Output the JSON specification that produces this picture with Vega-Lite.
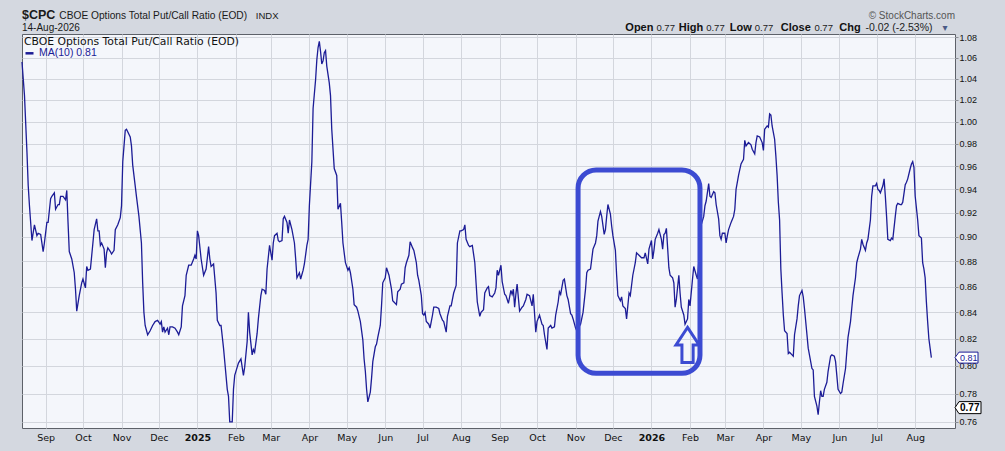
{
  "$schema": "https://vega.github.io/schema/vega-lite/v6.json",
  "width": 933,
  "height": 394,
  "autosize": {"type": "none"},
  "padding": {"left": 22, "top": 34, "right": 50, "bottom": 23},
  "background": "#d4d8e0",
  "config": {
    "view": {"fill": "#f4f6fb", "stroke": "#5d6169", "strokeWidth": 1}
  },
  "resolve": {"axis": {"x": "independent", "y": "independent"}},
  "layer": [
    {
      "data": {
        "format": {"parse": {"date": "date:'%Y-%m-%d'"}},
        "values": [
          {"date": "2024-08-13", "ma": 1.056}, {"date": "2024-08-15", "ma": 1.024}, {"date": "2024-08-17", "ma": 0.972},
          {"date": "2024-08-18", "ma": 0.943}, {"date": "2024-08-19", "ma": 0.926}, {"date": "2024-08-21", "ma": 0.897},
          {"date": "2024-08-23", "ma": 0.910}, {"date": "2024-08-25", "ma": 0.901}, {"date": "2024-08-26", "ma": 0.903},
          {"date": "2024-08-28", "ma": 0.902}, {"date": "2024-08-30", "ma": 0.888}, {"date": "2024-08-31", "ma": 0.895},
          {"date": "2024-09-02", "ma": 0.912}, {"date": "2024-09-03", "ma": 0.912}, {"date": "2024-09-05", "ma": 0.932},
          {"date": "2024-09-06", "ma": 0.934}, {"date": "2024-09-08", "ma": 0.937}, {"date": "2024-09-09", "ma": 0.923},
          {"date": "2024-09-11", "ma": 0.927}, {"date": "2024-09-12", "ma": 0.927}, {"date": "2024-09-13", "ma": 0.934},
          {"date": "2024-09-15", "ma": 0.934}, {"date": "2024-09-17", "ma": 0.931}, {"date": "2024-09-18", "ma": 0.939},
          {"date": "2024-09-19", "ma": 0.912}, {"date": "2024-09-20", "ma": 0.888}, {"date": "2024-09-22", "ma": 0.882},
          {"date": "2024-09-24", "ma": 0.871}, {"date": "2024-09-25", "ma": 0.858}, {"date": "2024-09-26", "ma": 0.841},
          {"date": "2024-09-28", "ma": 0.853}, {"date": "2024-09-30", "ma": 0.863}, {"date": "2024-10-01", "ma": 0.866},
          {"date": "2024-10-03", "ma": 0.859}, {"date": "2024-10-04", "ma": 0.876}, {"date": "2024-10-05", "ma": 0.873},
          {"date": "2024-10-07", "ma": 0.874}, {"date": "2024-10-09", "ma": 0.895}, {"date": "2024-10-10", "ma": 0.906},
          {"date": "2024-10-12", "ma": 0.915}, {"date": "2024-10-13", "ma": 0.905}, {"date": "2024-10-14", "ma": 0.905},
          {"date": "2024-10-15", "ma": 0.893}, {"date": "2024-10-16", "ma": 0.895}, {"date": "2024-10-18", "ma": 0.890},
          {"date": "2024-10-19", "ma": 0.875}, {"date": "2024-10-20", "ma": 0.887}, {"date": "2024-10-21", "ma": 0.891},
          {"date": "2024-10-23", "ma": 0.888}, {"date": "2024-10-24", "ma": 0.886}, {"date": "2024-10-26", "ma": 0.889},
          {"date": "2024-10-27", "ma": 0.906}, {"date": "2024-10-29", "ma": 0.910}, {"date": "2024-10-31", "ma": 0.916},
          {"date": "2024-11-01", "ma": 0.926}, {"date": "2024-11-02", "ma": 0.964}, {"date": "2024-11-04", "ma": 0.992},
          {"date": "2024-11-05", "ma": 0.993}, {"date": "2024-11-08", "ma": 0.986}, {"date": "2024-11-09", "ma": 0.978},
          {"date": "2024-11-10", "ma": 0.961}, {"date": "2024-11-12", "ma": 0.943}, {"date": "2024-11-13", "ma": 0.934},
          {"date": "2024-11-15", "ma": 0.917}, {"date": "2024-11-17", "ma": 0.895}, {"date": "2024-11-18", "ma": 0.863},
          {"date": "2024-11-19", "ma": 0.840}, {"date": "2024-11-20", "ma": 0.830}, {"date": "2024-11-22", "ma": 0.823},
          {"date": "2024-11-24", "ma": 0.826}, {"date": "2024-11-26", "ma": 0.830}, {"date": "2024-11-28", "ma": 0.833},
          {"date": "2024-11-30", "ma": 0.834}, {"date": "2024-12-02", "ma": 0.831}, {"date": "2024-12-03", "ma": 0.833},
          {"date": "2024-12-04", "ma": 0.825}, {"date": "2024-12-05", "ma": 0.829}, {"date": "2024-12-06", "ma": 0.825},
          {"date": "2024-12-08", "ma": 0.828}, {"date": "2024-12-09", "ma": 0.823}, {"date": "2024-12-10", "ma": 0.829},
          {"date": "2024-12-12", "ma": 0.829}, {"date": "2024-12-14", "ma": 0.828}, {"date": "2024-12-16", "ma": 0.825},
          {"date": "2024-12-17", "ma": 0.823}, {"date": "2024-12-19", "ma": 0.829}, {"date": "2024-12-20", "ma": 0.845},
          {"date": "2024-12-22", "ma": 0.853}, {"date": "2024-12-23", "ma": 0.869}, {"date": "2024-12-25", "ma": 0.877},
          {"date": "2024-12-27", "ma": 0.877}, {"date": "2024-12-29", "ma": 0.882}, {"date": "2024-12-30", "ma": 0.885},
          {"date": "2024-12-31", "ma": 0.882}, {"date": "2025-01-01", "ma": 0.905}, {"date": "2025-01-02", "ma": 0.901},
          {"date": "2025-01-04", "ma": 0.882}, {"date": "2025-01-06", "ma": 0.869}, {"date": "2025-01-08", "ma": 0.874},
          {"date": "2025-01-10", "ma": 0.892}, {"date": "2025-01-11", "ma": 0.882}, {"date": "2025-01-12", "ma": 0.876},
          {"date": "2025-01-14", "ma": 0.878}, {"date": "2025-01-16", "ma": 0.855}, {"date": "2025-01-17", "ma": 0.834},
          {"date": "2025-01-19", "ma": 0.830}, {"date": "2025-01-20", "ma": 0.830}, {"date": "2025-01-22", "ma": 0.813},
          {"date": "2025-01-23", "ma": 0.803}, {"date": "2025-01-25", "ma": 0.783}, {"date": "2025-01-26", "ma": 0.778},
          {"date": "2025-01-27", "ma": 0.760}, {"date": "2025-01-29", "ma": 0.760}, {"date": "2025-01-30", "ma": 0.783},
          {"date": "2025-01-31", "ma": 0.793}, {"date": "2025-02-02", "ma": 0.799}, {"date": "2025-02-03", "ma": 0.802},
          {"date": "2025-02-05", "ma": 0.805}, {"date": "2025-02-07", "ma": 0.793}, {"date": "2025-02-08", "ma": 0.799},
          {"date": "2025-02-10", "ma": 0.818}, {"date": "2025-02-11", "ma": 0.840}, {"date": "2025-02-12", "ma": 0.825},
          {"date": "2025-02-14", "ma": 0.808}, {"date": "2025-02-15", "ma": 0.812}, {"date": "2025-02-16", "ma": 0.810},
          {"date": "2025-02-18", "ma": 0.824}, {"date": "2025-02-19", "ma": 0.835}, {"date": "2025-02-21", "ma": 0.853},
          {"date": "2025-02-22", "ma": 0.858}, {"date": "2025-02-24", "ma": 0.857}, {"date": "2025-02-25", "ma": 0.854},
          {"date": "2025-02-26", "ma": 0.874}, {"date": "2025-02-28", "ma": 0.893}, {"date": "2025-03-02", "ma": 0.881},
          {"date": "2025-03-03", "ma": 0.895}, {"date": "2025-03-04", "ma": 0.901}, {"date": "2025-03-06", "ma": 0.903},
          {"date": "2025-03-07", "ma": 0.897}, {"date": "2025-03-08", "ma": 0.896}, {"date": "2025-03-10", "ma": 0.897},
          {"date": "2025-03-11", "ma": 0.915}, {"date": "2025-03-12", "ma": 0.917}, {"date": "2025-03-14", "ma": 0.912},
          {"date": "2025-03-15", "ma": 0.903}, {"date": "2025-03-16", "ma": 0.914}, {"date": "2025-03-18", "ma": 0.906},
          {"date": "2025-03-20", "ma": 0.895}, {"date": "2025-03-21", "ma": 0.882}, {"date": "2025-03-22", "ma": 0.867},
          {"date": "2025-03-24", "ma": 0.871}, {"date": "2025-03-25", "ma": 0.866}, {"date": "2025-03-27", "ma": 0.873},
          {"date": "2025-03-28", "ma": 0.878}, {"date": "2025-03-30", "ma": 0.893}, {"date": "2025-03-31", "ma": 0.898},
          {"date": "2025-04-01", "ma": 0.926}, {"date": "2025-04-03", "ma": 0.964}, {"date": "2025-04-04", "ma": 1.012},
          {"date": "2025-04-06", "ma": 1.039}, {"date": "2025-04-07", "ma": 1.058}, {"date": "2025-04-08", "ma": 1.070},
          {"date": "2025-04-09", "ma": 1.076}, {"date": "2025-04-10", "ma": 1.066}, {"date": "2025-04-11", "ma": 1.054},
          {"date": "2025-04-12", "ma": 1.057}, {"date": "2025-04-13", "ma": 1.065}, {"date": "2025-04-14", "ma": 1.067},
          {"date": "2025-04-15", "ma": 1.052}, {"date": "2025-04-17", "ma": 1.036}, {"date": "2025-04-18", "ma": 1.024},
          {"date": "2025-04-19", "ma": 0.993}, {"date": "2025-04-21", "ma": 0.958}, {"date": "2025-04-23", "ma": 0.952},
          {"date": "2025-04-24", "ma": 0.923}, {"date": "2025-04-26", "ma": 0.928}, {"date": "2025-04-27", "ma": 0.912},
          {"date": "2025-04-28", "ma": 0.895}, {"date": "2025-04-30", "ma": 0.879}, {"date": "2025-05-02", "ma": 0.873},
          {"date": "2025-05-03", "ma": 0.875}, {"date": "2025-05-04", "ma": 0.871}, {"date": "2025-05-06", "ma": 0.858},
          {"date": "2025-05-07", "ma": 0.846}, {"date": "2025-05-09", "ma": 0.844}, {"date": "2025-05-10", "ma": 0.841},
          {"date": "2025-05-12", "ma": 0.833}, {"date": "2025-05-14", "ma": 0.819}, {"date": "2025-05-15", "ma": 0.805},
          {"date": "2025-05-16", "ma": 0.796}, {"date": "2025-05-17", "ma": 0.783}, {"date": "2025-05-18", "ma": 0.774},
          {"date": "2025-05-20", "ma": 0.781}, {"date": "2025-05-21", "ma": 0.791}, {"date": "2025-05-22", "ma": 0.803},
          {"date": "2025-05-24", "ma": 0.814}, {"date": "2025-05-25", "ma": 0.816}, {"date": "2025-05-26", "ma": 0.821},
          {"date": "2025-05-28", "ma": 0.830}, {"date": "2025-05-29", "ma": 0.845}, {"date": "2025-05-30", "ma": 0.863},
          {"date": "2025-06-01", "ma": 0.867}, {"date": "2025-06-02", "ma": 0.875}, {"date": "2025-06-04", "ma": 0.869},
          {"date": "2025-06-06", "ma": 0.858}, {"date": "2025-06-07", "ma": 0.849}, {"date": "2025-06-08", "ma": 0.848},
          {"date": "2025-06-10", "ma": 0.846}, {"date": "2025-06-11", "ma": 0.856}, {"date": "2025-06-13", "ma": 0.858},
          {"date": "2025-06-14", "ma": 0.862}, {"date": "2025-06-16", "ma": 0.863}, {"date": "2025-06-17", "ma": 0.875},
          {"date": "2025-06-18", "ma": 0.879}, {"date": "2025-06-20", "ma": 0.885}, {"date": "2025-06-21", "ma": 0.896},
          {"date": "2025-06-23", "ma": 0.891}, {"date": "2025-06-24", "ma": 0.889}, {"date": "2025-06-26", "ma": 0.879},
          {"date": "2025-06-27", "ma": 0.869}, {"date": "2025-06-28", "ma": 0.865}, {"date": "2025-06-30", "ma": 0.853},
          {"date": "2025-07-01", "ma": 0.839}, {"date": "2025-07-02", "ma": 0.838}, {"date": "2025-07-03", "ma": 0.840},
          {"date": "2025-07-04", "ma": 0.833}, {"date": "2025-07-06", "ma": 0.831}, {"date": "2025-07-07", "ma": 0.828},
          {"date": "2025-07-09", "ma": 0.838}, {"date": "2025-07-10", "ma": 0.844}, {"date": "2025-07-12", "ma": 0.844},
          {"date": "2025-07-14", "ma": 0.843}, {"date": "2025-07-15", "ma": 0.839}, {"date": "2025-07-17", "ma": 0.834},
          {"date": "2025-07-18", "ma": 0.833}, {"date": "2025-07-20", "ma": 0.825}, {"date": "2025-07-21", "ma": 0.837},
          {"date": "2025-07-23", "ma": 0.845}, {"date": "2025-07-24", "ma": 0.845}, {"date": "2025-07-26", "ma": 0.855},
          {"date": "2025-07-28", "ma": 0.861}, {"date": "2025-07-29", "ma": 0.895}, {"date": "2025-07-31", "ma": 0.905},
          {"date": "2025-08-01", "ma": 0.905}, {"date": "2025-08-03", "ma": 0.906}, {"date": "2025-08-04", "ma": 0.910},
          {"date": "2025-08-05", "ma": 0.898}, {"date": "2025-08-07", "ma": 0.893}, {"date": "2025-08-08", "ma": 0.892},
          {"date": "2025-08-10", "ma": 0.893}, {"date": "2025-08-12", "ma": 0.879}, {"date": "2025-08-13", "ma": 0.863},
          {"date": "2025-08-14", "ma": 0.848}, {"date": "2025-08-16", "ma": 0.837}, {"date": "2025-08-17", "ma": 0.840},
          {"date": "2025-08-19", "ma": 0.842}, {"date": "2025-08-20", "ma": 0.855}, {"date": "2025-08-22", "ma": 0.859},
          {"date": "2025-08-23", "ma": 0.860}, {"date": "2025-08-24", "ma": 0.853}, {"date": "2025-08-26", "ma": 0.852},
          {"date": "2025-08-28", "ma": 0.855}, {"date": "2025-08-29", "ma": 0.859}, {"date": "2025-08-30", "ma": 0.873},
          {"date": "2025-08-31", "ma": 0.869}, {"date": "2025-09-02", "ma": 0.877}, {"date": "2025-09-03", "ma": 0.864},
          {"date": "2025-09-05", "ma": 0.854}, {"date": "2025-09-06", "ma": 0.853}, {"date": "2025-09-08", "ma": 0.847},
          {"date": "2025-09-10", "ma": 0.857}, {"date": "2025-09-11", "ma": 0.854}, {"date": "2025-09-12", "ma": 0.858},
          {"date": "2025-09-13", "ma": 0.844}, {"date": "2025-09-14", "ma": 0.854}, {"date": "2025-09-15", "ma": 0.862},
          {"date": "2025-09-17", "ma": 0.841}, {"date": "2025-09-19", "ma": 0.844}, {"date": "2025-09-20", "ma": 0.845},
          {"date": "2025-09-22", "ma": 0.850}, {"date": "2025-09-23", "ma": 0.854}, {"date": "2025-09-25", "ma": 0.853},
          {"date": "2025-09-27", "ma": 0.845}, {"date": "2025-09-28", "ma": 0.854}, {"date": "2025-09-30", "ma": 0.825},
          {"date": "2025-10-01", "ma": 0.833}, {"date": "2025-10-03", "ma": 0.838}, {"date": "2025-10-05", "ma": 0.831},
          {"date": "2025-10-06", "ma": 0.830}, {"date": "2025-10-07", "ma": 0.823}, {"date": "2025-10-09", "ma": 0.812},
          {"date": "2025-10-10", "ma": 0.828}, {"date": "2025-10-12", "ma": 0.830}, {"date": "2025-10-13", "ma": 0.828},
          {"date": "2025-10-15", "ma": 0.829}, {"date": "2025-10-16", "ma": 0.838}, {"date": "2025-10-18", "ma": 0.848},
          {"date": "2025-10-19", "ma": 0.856}, {"date": "2025-10-20", "ma": 0.854}, {"date": "2025-10-22", "ma": 0.865},
          {"date": "2025-10-23", "ma": 0.866}, {"date": "2025-10-25", "ma": 0.853}, {"date": "2025-10-26", "ma": 0.850},
          {"date": "2025-10-28", "ma": 0.839}, {"date": "2025-10-29", "ma": 0.838}, {"date": "2025-10-30", "ma": 0.835},
          {"date": "2025-11-01", "ma": 0.828}, {"date": "2025-11-02", "ma": 0.826}, {"date": "2025-11-05", "ma": 0.831},
          {"date": "2025-11-07", "ma": 0.840}, {"date": "2025-11-09", "ma": 0.858}, {"date": "2025-11-10", "ma": 0.871},
          {"date": "2025-11-11", "ma": 0.873}, {"date": "2025-11-13", "ma": 0.874}, {"date": "2025-11-15", "ma": 0.890},
          {"date": "2025-11-17", "ma": 0.895}, {"date": "2025-11-18", "ma": 0.901}, {"date": "2025-11-19", "ma": 0.913},
          {"date": "2025-11-21", "ma": 0.921}, {"date": "2025-11-22", "ma": 0.917}, {"date": "2025-11-24", "ma": 0.902},
          {"date": "2025-11-25", "ma": 0.906}, {"date": "2025-11-26", "ma": 0.917}, {"date": "2025-11-27", "ma": 0.927},
          {"date": "2025-11-29", "ma": 0.919}, {"date": "2025-11-30", "ma": 0.909}, {"date": "2025-12-01", "ma": 0.901},
          {"date": "2025-12-03", "ma": 0.889}, {"date": "2025-12-04", "ma": 0.869}, {"date": "2025-12-05", "ma": 0.853},
          {"date": "2025-12-07", "ma": 0.849}, {"date": "2025-12-08", "ma": 0.852}, {"date": "2025-12-09", "ma": 0.845},
          {"date": "2025-12-11", "ma": 0.843}, {"date": "2025-12-12", "ma": 0.835}, {"date": "2025-12-13", "ma": 0.845},
          {"date": "2025-12-14", "ma": 0.855}, {"date": "2025-12-15", "ma": 0.853}, {"date": "2025-12-17", "ma": 0.869},
          {"date": "2025-12-19", "ma": 0.879}, {"date": "2025-12-20", "ma": 0.887}, {"date": "2025-12-22", "ma": 0.885},
          {"date": "2025-12-24", "ma": 0.883}, {"date": "2025-12-26", "ma": 0.883}, {"date": "2025-12-27", "ma": 0.887},
          {"date": "2025-12-29", "ma": 0.878}, {"date": "2025-12-30", "ma": 0.890}, {"date": "2026-01-01", "ma": 0.897},
          {"date": "2026-01-02", "ma": 0.882}, {"date": "2026-01-03", "ma": 0.889}, {"date": "2026-01-04", "ma": 0.898},
          {"date": "2026-01-06", "ma": 0.903}, {"date": "2026-01-07", "ma": 0.906}, {"date": "2026-01-09", "ma": 0.898},
          {"date": "2026-01-10", "ma": 0.890}, {"date": "2026-01-11", "ma": 0.902}, {"date": "2026-01-12", "ma": 0.903},
          {"date": "2026-01-13", "ma": 0.907}, {"date": "2026-01-14", "ma": 0.891}, {"date": "2026-01-15", "ma": 0.875},
          {"date": "2026-01-16", "ma": 0.869}, {"date": "2026-01-18", "ma": 0.867}, {"date": "2026-01-19", "ma": 0.863},
          {"date": "2026-01-20", "ma": 0.844}, {"date": "2026-01-21", "ma": 0.850}, {"date": "2026-01-23", "ma": 0.869},
          {"date": "2026-01-24", "ma": 0.855}, {"date": "2026-01-25", "ma": 0.844}, {"date": "2026-01-27", "ma": 0.838},
          {"date": "2026-01-28", "ma": 0.831}, {"date": "2026-01-30", "ma": 0.835}, {"date": "2026-01-31", "ma": 0.850},
          {"date": "2026-02-01", "ma": 0.845}, {"date": "2026-02-03", "ma": 0.866}, {"date": "2026-02-04", "ma": 0.876},
          {"date": "2026-02-06", "ma": 0.869}, {"date": "2026-02-07", "ma": 0.866}, {"date": "2026-02-09", "ma": 0.893},
          {"date": "2026-02-10", "ma": 0.910}, {"date": "2026-02-12", "ma": 0.917}, {"date": "2026-02-13", "ma": 0.926},
          {"date": "2026-02-14", "ma": 0.930}, {"date": "2026-02-16", "ma": 0.945}, {"date": "2026-02-17", "ma": 0.934},
          {"date": "2026-02-18", "ma": 0.933}, {"date": "2026-02-20", "ma": 0.938}, {"date": "2026-02-21", "ma": 0.937},
          {"date": "2026-02-22", "ma": 0.927}, {"date": "2026-02-24", "ma": 0.915}, {"date": "2026-02-25", "ma": 0.901},
          {"date": "2026-02-26", "ma": 0.898}, {"date": "2026-02-27", "ma": 0.903}, {"date": "2026-03-01", "ma": 0.903},
          {"date": "2026-03-02", "ma": 0.895}, {"date": "2026-03-03", "ma": 0.901}, {"date": "2026-03-04", "ma": 0.906},
          {"date": "2026-03-06", "ma": 0.912}, {"date": "2026-03-08", "ma": 0.917}, {"date": "2026-03-09", "ma": 0.923},
          {"date": "2026-03-10", "ma": 0.940}, {"date": "2026-03-12", "ma": 0.952}, {"date": "2026-03-14", "ma": 0.962},
          {"date": "2026-03-16", "ma": 0.966}, {"date": "2026-03-17", "ma": 0.983}, {"date": "2026-03-18", "ma": 0.978},
          {"date": "2026-03-20", "ma": 0.981}, {"date": "2026-03-22", "ma": 0.979}, {"date": "2026-03-23", "ma": 0.975},
          {"date": "2026-03-25", "ma": 0.971}, {"date": "2026-03-26", "ma": 0.981}, {"date": "2026-03-27", "ma": 0.987},
          {"date": "2026-03-29", "ma": 0.986}, {"date": "2026-03-31", "ma": 0.981}, {"date": "2026-04-01", "ma": 0.974},
          {"date": "2026-04-02", "ma": 0.993}, {"date": "2026-04-04", "ma": 0.996}, {"date": "2026-04-05", "ma": 0.995},
          {"date": "2026-04-06", "ma": 1.007}, {"date": "2026-04-07", "ma": 1.006}, {"date": "2026-04-08", "ma": 0.996},
          {"date": "2026-04-10", "ma": 0.984}, {"date": "2026-04-11", "ma": 0.969}, {"date": "2026-04-12", "ma": 0.952},
          {"date": "2026-04-13", "ma": 0.929}, {"date": "2026-04-14", "ma": 0.914}, {"date": "2026-04-15", "ma": 0.874},
          {"date": "2026-04-16", "ma": 0.855}, {"date": "2026-04-17", "ma": 0.838}, {"date": "2026-04-18", "ma": 0.826},
          {"date": "2026-04-20", "ma": 0.824}, {"date": "2026-04-21", "ma": 0.809}, {"date": "2026-04-22", "ma": 0.810},
          {"date": "2026-04-24", "ma": 0.808}, {"date": "2026-04-25", "ma": 0.807}, {"date": "2026-04-26", "ma": 0.823},
          {"date": "2026-04-28", "ma": 0.835}, {"date": "2026-04-29", "ma": 0.845}, {"date": "2026-04-30", "ma": 0.853},
          {"date": "2026-05-02", "ma": 0.857}, {"date": "2026-05-03", "ma": 0.852}, {"date": "2026-05-04", "ma": 0.843},
          {"date": "2026-05-06", "ma": 0.823}, {"date": "2026-05-07", "ma": 0.813}, {"date": "2026-05-08", "ma": 0.808},
          {"date": "2026-05-10", "ma": 0.798}, {"date": "2026-05-11", "ma": 0.797}, {"date": "2026-05-12", "ma": 0.778},
          {"date": "2026-05-14", "ma": 0.771}, {"date": "2026-05-15", "ma": 0.765}, {"date": "2026-05-16", "ma": 0.774},
          {"date": "2026-05-17", "ma": 0.782}, {"date": "2026-05-18", "ma": 0.778}, {"date": "2026-05-19", "ma": 0.778},
          {"date": "2026-05-20", "ma": 0.783}, {"date": "2026-05-22", "ma": 0.788}, {"date": "2026-05-23", "ma": 0.796},
          {"date": "2026-05-25", "ma": 0.807}, {"date": "2026-05-26", "ma": 0.808}, {"date": "2026-05-28", "ma": 0.807},
          {"date": "2026-05-29", "ma": 0.803}, {"date": "2026-05-30", "ma": 0.793}, {"date": "2026-05-31", "ma": 0.783},
          {"date": "2026-06-02", "ma": 0.780}, {"date": "2026-06-03", "ma": 0.781}, {"date": "2026-06-04", "ma": 0.787},
          {"date": "2026-06-06", "ma": 0.798}, {"date": "2026-06-07", "ma": 0.810}, {"date": "2026-06-08", "ma": 0.821},
          {"date": "2026-06-10", "ma": 0.833}, {"date": "2026-06-11", "ma": 0.843}, {"date": "2026-06-12", "ma": 0.853},
          {"date": "2026-06-14", "ma": 0.867}, {"date": "2026-06-15", "ma": 0.879}, {"date": "2026-06-16", "ma": 0.883},
          {"date": "2026-06-18", "ma": 0.890}, {"date": "2026-06-19", "ma": 0.898}, {"date": "2026-06-20", "ma": 0.894},
          {"date": "2026-06-22", "ma": 0.889}, {"date": "2026-06-23", "ma": 0.895}, {"date": "2026-06-24", "ma": 0.898},
          {"date": "2026-06-26", "ma": 0.914}, {"date": "2026-06-27", "ma": 0.934}, {"date": "2026-06-28", "ma": 0.943},
          {"date": "2026-06-30", "ma": 0.943}, {"date": "2026-07-01", "ma": 0.945}, {"date": "2026-07-02", "ma": 0.940},
          {"date": "2026-07-03", "ma": 0.939}, {"date": "2026-07-04", "ma": 0.937}, {"date": "2026-07-06", "ma": 0.943},
          {"date": "2026-07-07", "ma": 0.949}, {"date": "2026-07-08", "ma": 0.934}, {"date": "2026-07-09", "ma": 0.917},
          {"date": "2026-07-10", "ma": 0.898}, {"date": "2026-07-12", "ma": 0.897}, {"date": "2026-07-13", "ma": 0.899},
          {"date": "2026-07-14", "ma": 0.898}, {"date": "2026-07-16", "ma": 0.917}, {"date": "2026-07-17", "ma": 0.926},
          {"date": "2026-07-18", "ma": 0.928}, {"date": "2026-07-20", "ma": 0.927}, {"date": "2026-07-21", "ma": 0.927},
          {"date": "2026-07-22", "ma": 0.929}, {"date": "2026-07-24", "ma": 0.944}, {"date": "2026-07-25", "ma": 0.946},
          {"date": "2026-07-26", "ma": 0.949}, {"date": "2026-07-28", "ma": 0.958}, {"date": "2026-07-29", "ma": 0.962},
          {"date": "2026-07-30", "ma": 0.964}, {"date": "2026-07-31", "ma": 0.959}, {"date": "2026-08-01", "ma": 0.934},
          {"date": "2026-08-03", "ma": 0.914}, {"date": "2026-08-04", "ma": 0.901}, {"date": "2026-08-06", "ma": 0.899},
          {"date": "2026-08-07", "ma": 0.879}, {"date": "2026-08-08", "ma": 0.874}, {"date": "2026-08-09", "ma": 0.867},
          {"date": "2026-08-10", "ma": 0.848}, {"date": "2026-08-11", "ma": 0.833}, {"date": "2026-08-12", "ma": 0.820},
          {"date": "2026-08-14", "ma": 0.806}
        ]
      },
      "mark": {"type": "line", "strokeWidth": 1.3},
      "encoding": {
        "x": {
          "field": "date",
          "type": "temporal",
          "scale": {"domain": [{"year": 2024, "month": 8, "date": 13}, {"year": 2026, "month": 9, "date": 2}], "nice": false},
          "axis": {
            "title": null,
            "orient": "bottom",
            "values": [
              {"year": 2024, "month": 9, "date": 1}, {"year": 2024, "month": 10, "date": 1}, {"year": 2024, "month": 11, "date": 1},
              {"year": 2024, "month": 12, "date": 1}, {"year": 2025, "month": 1, "date": 1}, {"year": 2025, "month": 2, "date": 1},
              {"year": 2025, "month": 3, "date": 1}, {"year": 2025, "month": 4, "date": 1}, {"year": 2025, "month": 5, "date": 1},
              {"year": 2025, "month": 6, "date": 1}, {"year": 2025, "month": 7, "date": 1}, {"year": 2025, "month": 8, "date": 1},
              {"year": 2025, "month": 9, "date": 1}, {"year": 2025, "month": 10, "date": 1}, {"year": 2025, "month": 11, "date": 1},
              {"year": 2025, "month": 12, "date": 1}, {"year": 2026, "month": 1, "date": 1}, {"year": 2026, "month": 2, "date": 1},
              {"year": 2026, "month": 3, "date": 1}, {"year": 2026, "month": 4, "date": 1}, {"year": 2026, "month": 5, "date": 1},
              {"year": 2026, "month": 6, "date": 1}, {"year": 2026, "month": 7, "date": 1}, {"year": 2026, "month": 8, "date": 1}
            ],
            "labelExpr": "month(datum.value) === 0 ? timeFormat(datum.value, '%Y') : timeFormat(datum.value, '%b')",
            "labelFontWeight": {"condition": {"test": "month(datum.value) === 0", "value": "bold"}, "value": "normal"},
            "labelFont": "DejaVu Sans",
            "labelFontSize": 9.5,
            "labelColor": "#111111",
            "labelPadding": 4,
            "labelFlush": false,
            "labelOverlap": false,
            "grid": true,
            "gridColor": "#d3d6dd",
            "ticks": false,
            "domain": false
          }
        },
        "y": {
          "field": "ma",
          "type": "quantitative",
          "scale": {"type": "log", "domain": [0.7558, 1.0833], "nice": false, "zero": false},
          "axis": {
            "title": null,
            "orient": "right",
            "values": [0.76, 0.78, 0.8, 0.82, 0.84, 0.86, 0.88, 0.9, 0.92, 0.94, 0.96, 0.98, 1.0, 1.02, 1.04, 1.06, 1.08],
            "format": ".2f",
            "labelFont": "Liberation Sans",
            "labelFontSize": 9,
            "labelColor": "#111111",
            "labelPadding": 1,
            "labelOverlap": false,
            "grid": true,
            "gridColor": "#d3d6dd",
            "ticks": true,
            "tickSize": 3,
            "tickColor": "#8a8d94",
            "domain": false
          }
        },
        "color": {
          "datum": "MA(10) 0.81",
          "type": "nominal",
          "scale": {"range": ["#1c1c96"]},
          "legend": {
            "title": "CBOE Options Total Put/Call Ratio (EOD)",
            "orient": "top-left",
            "offset": 2,
            "padding": 0,
            "titleFont": "DejaVu Sans",
            "titleFontSize": 10.8,
            "titleFontWeight": "normal",
            "titleColor": "#111111",
            "titlePadding": 1,
            "titleLimit": 0,
            "labelFont": "Liberation Sans",
            "labelFontSize": 10.5,
            "labelColor": "#1c1c96",
            "labelOffset": 4,
            "symbolType": "stroke",
            "symbolSize": 64,
            "symbolStrokeWidth": 2.5
          }
        }
      }
    },
    {
      "data": {"values": [{}]},
      "mark": {"type": "rect", "filled": false, "color": "#3c4bd2", "stroke": "#3c4bd2", "strokeWidth": 5, "cornerRadius": 18},
      "encoding": {
        "x": {"datum": {"year": 2025, "month": 11, "date": 3}, "type": "temporal", "axis": null},
        "x2": {"datum": {"year": 2026, "month": 2, "date": 9}},
        "y": {"datum": 0.9567, "type": "quantitative", "axis": null},
        "y2": {"datum": 0.7946}
      }
    },
    {
      "data": {"values": [{}]},
      "mark": {"type": "point", "shape": "M0,-1L0.66,0L0.32,0L0.32,1L-0.32,1L-0.32,0L-0.66,0Z", "size": 1225, "filled": false, "color": "#3c4bd2", "strokeWidth": 3, "opacity": 1},
      "encoding": {
        "x": {"datum": {"year": 2026, "month": 1, "date": 30}, "type": "temporal", "axis": null},
        "y": {"datum": 0.8154, "type": "quantitative", "axis": null}
      }
    },
    {
      "data": {"values": [{}]},
      "mark": {"type": "point", "shape": "M0,0L0.4,-0.55L2.3,-0.55L2.3,0.55L0.4,0.55Z", "size": 400, "filled": true, "fill": "#ffffff", "stroke": "#1c1c96", "strokeWidth": 1, "opacity": 1},
      "encoding": {
        "x": {"datum": {"year": 2026, "month": 9, "date": 2}, "type": "temporal", "axis": null},
        "y": {"datum": 0.806, "type": "quantitative", "axis": null}
      }
    },
    {
      "data": {"values": [{}]},
      "mark": {"type": "text", "text": "0.81", "align": "left", "baseline": "middle", "dx": 5, "font": "Liberation Sans", "fontSize": 9, "color": "#1c1c96"},
      "encoding": {
        "x": {"datum": {"year": 2026, "month": 9, "date": 2}, "type": "temporal", "axis": null},
        "y": {"datum": 0.806, "type": "quantitative", "axis": null}
      }
    },
    {
      "data": {"values": [{}]},
      "mark": {"type": "point", "shape": "M0,0L0.4,-0.6L2.6,-0.6L2.6,0.6L0.4,0.6Z", "size": 400, "filled": true, "fill": "#ffffff", "stroke": "#000000", "strokeWidth": 1, "opacity": 1},
      "encoding": {
        "x": {"datum": {"year": 2026, "month": 9, "date": 2}, "type": "temporal", "axis": null},
        "y": {"datum": 0.77, "type": "quantitative", "axis": null}
      }
    },
    {
      "data": {"values": [{}]},
      "mark": {"type": "text", "text": "0.77", "align": "left", "baseline": "middle", "dx": 5, "font": "Liberation Sans", "fontSize": 10, "fontWeight": "bold", "color": "#000000"},
      "encoding": {
        "x": {"datum": {"year": 2026, "month": 9, "date": 2}, "type": "temporal", "axis": null},
        "y": {"datum": 0.77, "type": "quantitative", "axis": null}
      }
    },
    {
      "data": {"values": [{}]},
      "mark": {"type": "text", "text": "$CPC", "align": "left", "baseline": "alphabetic", "font": "Liberation Sans", "fontSize": 12.5, "fontWeight": "bold", "color": "#1a1a1a"},
      "encoding": {
        "x": {"datum": {"year": 2024, "month": 8, "date": 13}, "type": "temporal", "axis": null},
        "y": {"datum": 1.0979, "type": "quantitative", "axis": null}
      }
    },
    {
      "data": {"values": [{}]},
      "mark": {"type": "text", "text": "CBOE Options Total Put/Call Ratio (EOD)", "align": "left", "baseline": "alphabetic", "font": "Liberation Sans", "fontSize": 10.2, "color": "#1a1a1a"},
      "encoding": {
        "x": {"datum": {"year": 2024, "month": 9, "date": 12}, "type": "temporal", "axis": null},
        "y": {"datum": 1.0979, "type": "quantitative", "axis": null}
      }
    },
    {
      "data": {"values": [{}]},
      "mark": {"type": "text", "text": "INDX", "align": "left", "baseline": "alphabetic", "font": "Liberation Sans", "fontSize": 9.5, "color": "#1a1a1a"},
      "encoding": {
        "x": {"datum": {"year": 2025, "month": 2, "date": 17}, "type": "temporal", "axis": null},
        "y": {"datum": 1.0979, "type": "quantitative", "axis": null}
      }
    },
    {
      "data": {"values": [{}]},
      "mark": {"type": "text", "text": "14-Aug-2026", "align": "left", "baseline": "alphabetic", "font": "Liberation Sans", "fontSize": 10, "color": "#1a1a1a"},
      "encoding": {
        "x": {"datum": {"year": 2024, "month": 8, "date": 13}, "type": "temporal", "axis": null},
        "y": {"datum": 1.0866, "type": "quantitative", "axis": null}
      }
    },
    {
      "data": {"values": [{}]},
      "mark": {"type": "text", "text": "© StockCharts.com", "align": "right", "baseline": "alphabetic", "font": "Liberation Sans", "fontSize": 10, "color": "#555555"},
      "encoding": {
        "x": {"datum": {"year": 2026, "month": 9, "date": 2}, "type": "temporal", "axis": null},
        "y": {"datum": 1.098, "type": "quantitative", "axis": null}
      }
    },
    {
      "data": {"values": [{}]},
      "mark": {"type": "text", "text": "Open", "align": "left", "baseline": "alphabetic", "font": "Liberation Sans", "fontSize": 11, "fontWeight": "bold", "color": "#111111"},
      "encoding": {
        "x": {"datum": {"year": 2025, "month": 12, "date": 11}, "type": "temporal", "axis": null},
        "y": {"datum": 1.0866, "type": "quantitative", "axis": null}
      }
    },
    {
      "data": {"values": [{}]},
      "mark": {"type": "text", "text": "0.77", "align": "left", "baseline": "alphabetic", "font": "Liberation Sans", "fontSize": 9.5, "color": "#222222"},
      "encoding": {
        "x": {"datum": {"year": 2026, "month": 1, "date": 5}, "type": "temporal", "axis": null},
        "y": {"datum": 1.0866, "type": "quantitative", "axis": null}
      }
    },
    {
      "data": {"values": [{}]},
      "mark": {"type": "text", "text": "High", "align": "left", "baseline": "alphabetic", "font": "Liberation Sans", "fontSize": 11, "fontWeight": "bold", "color": "#111111"},
      "encoding": {
        "x": {"datum": {"year": 2026, "month": 1, "date": 23}, "type": "temporal", "axis": null},
        "y": {"datum": 1.0866, "type": "quantitative", "axis": null}
      }
    },
    {
      "data": {"values": [{}]},
      "mark": {"type": "text", "text": "0.77", "align": "left", "baseline": "alphabetic", "font": "Liberation Sans", "fontSize": 9.5, "color": "#222222"},
      "encoding": {
        "x": {"datum": {"year": 2026, "month": 2, "date": 14}, "type": "temporal", "axis": null},
        "y": {"datum": 1.0866, "type": "quantitative", "axis": null}
      }
    },
    {
      "data": {"values": [{}]},
      "mark": {"type": "text", "text": "Low", "align": "left", "baseline": "alphabetic", "font": "Liberation Sans", "fontSize": 11, "fontWeight": "bold", "color": "#111111"},
      "encoding": {
        "x": {"datum": {"year": 2026, "month": 3, "date": 5}, "type": "temporal", "axis": null},
        "y": {"datum": 1.0866, "type": "quantitative", "axis": null}
      }
    },
    {
      "data": {"values": [{}]},
      "mark": {"type": "text", "text": "0.77", "align": "left", "baseline": "alphabetic", "font": "Liberation Sans", "fontSize": 9.5, "color": "#222222"},
      "encoding": {
        "x": {"datum": {"year": 2026, "month": 3, "date": 25}, "type": "temporal", "axis": null},
        "y": {"datum": 1.0866, "type": "quantitative", "axis": null}
      }
    },
    {
      "data": {"values": [{}]},
      "mark": {"type": "text", "text": "Close", "align": "left", "baseline": "alphabetic", "font": "Liberation Sans", "fontSize": 11, "fontWeight": "bold", "color": "#111111"},
      "encoding": {
        "x": {"datum": {"year": 2026, "month": 4, "date": 15}, "type": "temporal", "axis": null},
        "y": {"datum": 1.0866, "type": "quantitative", "axis": null}
      }
    },
    {
      "data": {"values": [{}]},
      "mark": {"type": "text", "text": "0.77", "align": "left", "baseline": "alphabetic", "font": "Liberation Sans", "fontSize": 9.5, "color": "#222222"},
      "encoding": {
        "x": {"datum": {"year": 2026, "month": 5, "date": 12}, "type": "temporal", "axis": null},
        "y": {"datum": 1.0866, "type": "quantitative", "axis": null}
      }
    },
    {
      "data": {"values": [{}]},
      "mark": {"type": "text", "text": "Chg", "align": "left", "baseline": "alphabetic", "font": "Liberation Sans", "fontSize": 11, "fontWeight": "bold", "color": "#111111"},
      "encoding": {
        "x": {"datum": {"year": 2026, "month": 6, "date": 1}, "type": "temporal", "axis": null},
        "y": {"datum": 1.0866, "type": "quantitative", "axis": null}
      }
    },
    {
      "data": {"values": [{}]},
      "mark": {"type": "text", "text": "-0.02 (-2.53%)", "align": "left", "baseline": "alphabetic", "font": "Liberation Sans", "fontSize": 10.5, "color": "#222222"},
      "encoding": {
        "x": {"datum": {"year": 2026, "month": 6, "date": 22}, "type": "temporal", "axis": null},
        "y": {"datum": 1.0866, "type": "quantitative", "axis": null}
      }
    },
    {
      "data": {"values": [{}]},
      "mark": {"type": "text", "text": "▾", "align": "left", "baseline": "alphabetic", "font": "DejaVu Sans", "fontSize": 10, "color": "#4a5a86"},
      "encoding": {
        "x": {"datum": {"year": 2026, "month": 8, "date": 23}, "type": "temporal", "axis": null},
        "y": {"datum": 1.0866, "type": "quantitative", "axis": null}
      }
    }
  ]
}
